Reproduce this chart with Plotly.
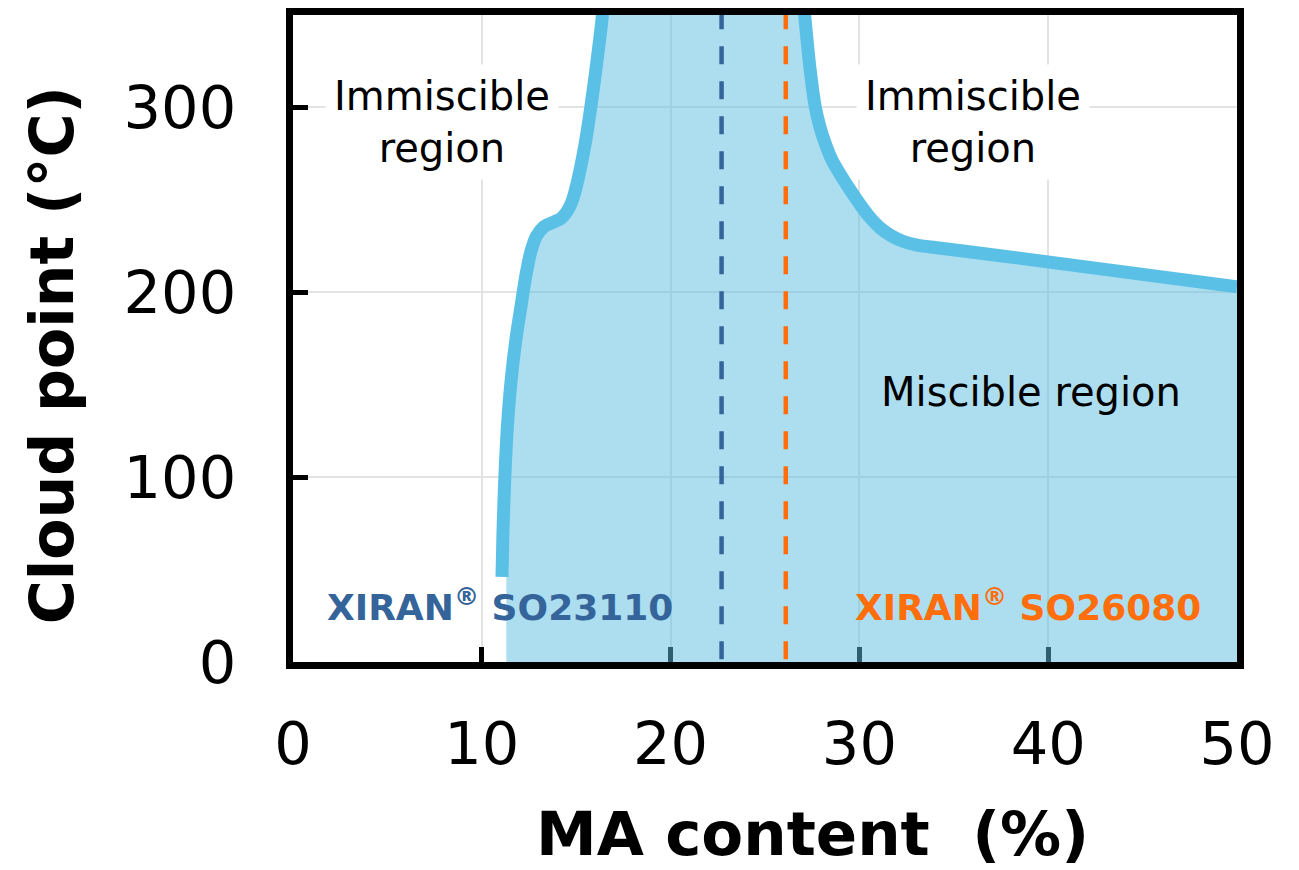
import plotly.graph_objects as go

# ---- data ----
left_x = [11.07, 11.12, 11.22, 11.36, 11.55, 11.8, 12.1, 12.35, 12.6, 12.9, 13.3, 13.8, 14.2, 14.5, 14.75, 14.95, 15.2, 15.45, 15.73, 16.05, 16.37, 16.45]
left_y = [46, 70, 100, 128, 152, 174, 194, 210, 222, 230.5, 235.5, 238, 240, 243.5, 248.5, 255, 266, 279, 297, 321, 348, 358]
right_x = [27.0, 27.1, 27.35, 27.65, 27.9, 28.2, 28.55, 28.97, 29.5, 30.0, 30.5, 31.1, 31.7, 32.3, 33.0, 34.0, 37.45, 50.0]
right_y = [360, 350, 324, 301, 289.8, 280.2, 271.5, 264, 255.5, 248, 241.2, 234.8, 230.5, 227.6, 225.7, 224.2, 219.8, 203.0]
fill_base_x = [50.0, 50.0, 11.3, 11.3]
fill_base_y = [203.0, 0, 0, 46]

grade_names = ["XIRAN<sup>®</sup> SO23110", "XIRAN<sup>®</sup> SO26080"]
grade_ma = [22.7, 26.1]
grade_line_bottom = [-6, 0]
grade_colors = ["#34649A", "#FF6E0A"]

x_ticks = [0, 10, 20, 30, 40, 50]
y_ticks = [0, 100, 200, 300]

FONT = "DejaVu Sans"
CURVE = "#5BC0E6"

fig = go.Figure()

# miscible region fill (semi-transparent, over axis lines)
poly_x = left_x + right_x + fill_base_x
poly_y = left_y + right_y + fill_base_y
fig.add_trace(go.Scatter(x=poly_x, y=poly_y, mode="lines", fill="toself",
                         fillcolor="rgba(90,190,225,0.5)", line=dict(width=0),
                         hoverinfo="skip", showlegend=False))

# grade dashed lines
for xm, yb, c in zip(grade_ma, grade_line_bottom, grade_colors):
    fig.add_trace(go.Scatter(x=[xm, xm], y=[352, yb], mode="lines",
                             line=dict(color=c, width=4.5, dash="18px,17px"),
                             hoverinfo="skip", showlegend=False, cliponaxis=False))

# boundary curves
fig.add_trace(go.Scatter(x=left_x, y=left_y, mode="lines",
                         line=dict(color=CURVE, width=13, shape="spline", smoothing=0.8),
                         showlegend=False))
fig.add_trace(go.Scatter(x=right_x, y=right_y, mode="lines",
                         line=dict(color=CURVE, width=13, shape="spline", smoothing=0.8),
                         showlegend=False))

annotations = [
    dict(x=7.9, y=292, text="Immiscible<br>region", showarrow=False,
         font=dict(family=FONT, size=40, color="black"), bgcolor="white", borderpad=8),
    dict(x=36.0, y=292, text="Immiscible<br>region", showarrow=False,
         font=dict(family=FONT, size=40, color="black"), bgcolor="white", borderpad=8),
    dict(x=39.1, y=146, text="Miscible region", showarrow=False,
         font=dict(family=FONT, size=40, color="black")),
    dict(x=10.96, y=31, text="<b>" + grade_names[0] + "</b>", showarrow=False,
         font=dict(family=FONT, size=36, color=grade_colors[0])),
    dict(x=38.93, y=31, text="<b>" + grade_names[1] + "</b>", showarrow=False,
         font=dict(family=FONT, size=36, color=grade_colors[1])),
    # axis titles
    dict(xref="paper", yref="paper", x=0.5498, y=-0.2645, xanchor="center", yanchor="middle",
         text="<b>MA content\u00a0 (%)</b>",
         showarrow=False, font=dict(family=FONT, size=61, color="black")),
    dict(xref="paper", yref="paper", x=-0.2553, y=0.474, xanchor="center", yanchor="middle",
         text="<b>Cloud point (°C)</b>",
         textangle=-90, showarrow=False, font=dict(family=FONT, size=60, color="black")),
]

fig.update_layout(
    width=1299, height=870,
    margin=dict(l=293, r=62, t=8, b=208),
    paper_bgcolor="white", plot_bgcolor="white",
    showlegend=False,
    annotations=annotations,
    font=dict(family=FONT, color="black"),
)

fig.update_xaxes(range=[0, 50], tickvals=x_ticks, ticktext=[str(v) for v in x_ticks],
                 showline=True, linecolor="black", linewidth=7, mirror=True,
                 ticks="inside", ticklen=15, tickwidth=5, tickcolor="black",
                 showgrid=True, gridcolor="#E3E3E3", gridwidth=2, zeroline=False,
                 tickfont=dict(family=FONT, size=59, color="black"),
                 ticklabelstandoff=24, layer="below traces")
fig.update_yaxes(range=[0, 350], tickvals=y_ticks, ticktext=[str(v) for v in y_ticks],
                 showline=True, linecolor="black", linewidth=7, mirror=True,
                 ticks="inside", ticklen=15, tickwidth=5, tickcolor="black",
                 showgrid=True, gridcolor="#E3E3E3", gridwidth=2, zeroline=False,
                 tickfont=dict(family=FONT, size=59, color="black"),
                 ticklabelstandoff=38, layer="below traces")

fig.write_html("out.html", config={"displayModeBar": False},
               post_script="document.body.style.margin='0px';")
